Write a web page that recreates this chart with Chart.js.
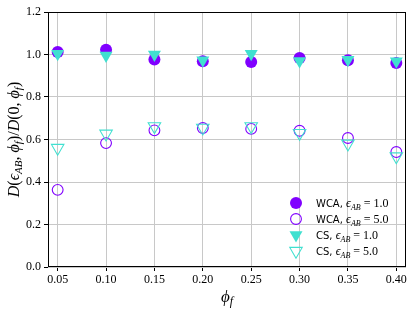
<!DOCTYPE html>
<html><head><meta charset="utf-8">
<script src="https://cdn.jsdelivr.net/npm/chart.js@4/dist/chart.umd.min.js"></script>
<style>html,body{margin:0;padding:0;background:#fff}#wrap{width:415px;height:312px}</style>
</head><body><div id="wrap"><canvas id="c" width="415" height="312"></canvas></div>
<script>
const phiF = [0.05, 0.10, 0.15, 0.20, 0.25, 0.30, 0.35, 0.40];
const wcaEps1 = [1.012, 1.022, 0.976, 0.968, 0.965, 0.984, 0.973, 0.960];
const wcaEps5 = [0.363, 0.583, 0.643, 0.654, 0.650, 0.641, 0.607, 0.541];
const csEps1 = [1.003, 0.995, 1.000, 0.973, 1.003, 0.970, 0.975, 0.968];
const csEps5 = [0.560, 0.627, 0.662, 0.655, 0.662, 0.630, 0.580, 0.520];
const xTicks = [0.05, 0.10, 0.15, 0.20, 0.25, 0.30, 0.35, 0.40];
const yTicks = [0.0, 0.2, 0.4, 0.6, 0.8, 1.0, 1.2];
const legendLabels = [["WCA", "1.0"], ["WCA", "5.0"], ["CS", "1.0"], ["CS", "5.0"]];

const PURPLE = '#8000ff', CYAN = '#40e0d0';
const SERIF = '"Liberation Serif", "DejaVu Serif", serif';
const pts = a => a.map((v, i) => ({x: phiF[i], y: v}));

const datasets = [
  {label: 'WCA, eps_AB = 1.0', data: pts(wcaEps1), order: 4, pointStyle: 'circle', pointRadius: 6, backgroundColor: PURPLE, borderColor: PURPLE, borderWidth: 0, rotation: 0},
  {label: 'WCA, eps_AB = 5.0', data: pts(wcaEps5), order: 3, pointStyle: 'circle', pointRadius: 5.4, backgroundColor: 'rgba(0,0,0,0)', borderColor: PURPLE, borderWidth: 1.1, rotation: 0},
  {label: 'CS, eps_AB = 1.0', data: pts(csEps1), order: 2, pointStyle: 'triangle', pointRadius: 7.5, backgroundColor: CYAN, borderColor: CYAN, borderWidth: 0, rotation: 180},
  {label: 'CS, eps_AB = 5.0', data: pts(csEps5), order: 1, pointStyle: 'triangle', pointRadius: 7.2, backgroundColor: 'rgba(0,0,0,0)', borderColor: CYAN, borderWidth: 1.1, rotation: 180}
];

function drawRich(ctx, x, y, parts, align) {
  let w = 0;
  parts.forEach(p => { ctx.font = p.f; w += ctx.measureText(p.t).width; });
  let cx = align === 'center' ? x - w / 2 : (align === 'right' ? x - w : x);
  ctx.textBaseline = 'alphabetic'; ctx.textAlign = 'left';
  parts.forEach(p => { ctx.font = p.f; ctx.fillText(p.t, cx, y + (p.dy || 0)); cx += ctx.measureText(p.t).width; });
}

const mathPlugin = {
  id: 'mathText',
  afterDraw(chart) {
    const ctx = chart.ctx, a = chart.chartArea;
    ctx.save();
    ctx.strokeStyle = '#000'; ctx.lineWidth = 1;
    ctx.strokeRect(Math.round(a.left) + 0.5, Math.round(a.top) + 0.5, Math.round(a.right - a.left) - 1, Math.round(a.bottom - a.top) - 1);
    ctx.fillStyle = '#000';
    const it = s => 'italic ' + s + 'px ' + SERIF, rm = s => s + 'px ' + SERIF;
    drawRich(ctx, (a.left + a.right) / 2, 302, [{t: 'ϕ', f: it(17)}, {t: 'f', f: it(12), dy: 3}], 'center');
    ctx.save();
    ctx.translate(19, (a.top + a.bottom) / 2);
    ctx.rotate(-Math.PI / 2);
    drawRich(ctx, 0, 0, [
      {t: 'D', f: it(16)}, {t: '(', f: rm(16)}, {t: 'ϵ', f: it(16)}, {t: 'AB', f: it(11), dy: 3},
      {t: ', ', f: rm(16)}, {t: 'ϕ', f: it(16)}, {t: 'f', f: it(11), dy: 3}, {t: ')/', f: rm(16)},
      {t: 'D', f: it(16)}, {t: '(0, ', f: rm(16)}, {t: 'ϕ', f: it(16)}, {t: 'f', f: it(11), dy: 3}, {t: ')', f: rm(16)}
    ], 'center');
    ctx.restore();
    const rows = [203, 219, 235, 251];
    const mx = 296, tx = 316;
    datasets.forEach((ds, i) => {
      ctx.save();
      ctx.fillStyle = ds.backgroundColor; ctx.strokeStyle = ds.borderColor; ctx.lineWidth = ds.borderWidth;
      Chart.helpers.drawPoint(ctx, {pointStyle: ds.pointStyle, radius: ds.pointRadius, rotation: ds.rotation, borderWidth: ds.borderWidth}, mx, rows[i]);
      ctx.restore();
      ctx.fillStyle = '#000';
      drawRich(ctx, tx, rows[i] + 4, [
        {t: legendLabels[i][0] + ', ', f: '10px "DejaVu Sans", sans-serif'},
        {t: 'ϵ', f: it(12)}, {t: 'AB', f: it(8), dy: 2.5},
        {t: ' = ' + legendLabels[i][1], f: rm(12)}
      ], 'left');
    });
    ctx.restore();
  }
};

new Chart(document.getElementById('c'), {
  type: 'scatter',
  data: {datasets},
  options: {
    responsive: false, animation: false, devicePixelRatio: 1,
    layout: {padding: {left: 0, right: 9, top: 12, bottom: 0}},
    plugins: {legend: {display: false}, tooltip: {enabled: false}},
    scales: {
      x: {
        type: 'linear', min: 0.04, max: 0.41,
        afterBuildTicks: s => { s.ticks = xTicks.map(v => ({value: v})); },
        afterFit: s => { s.height = 45; },
        grid: {color: '#c8c8c8', lineWidth: 1, tickColor: '#000', tickLength: 4, drawTicks: true},
        border: {display: false},
        ticks: {color: '#000', font: {family: SERIF, size: 12}, padding: 2, maxRotation: 0, callback: v => v.toFixed(2)}
      },
      y: {
        type: 'linear', min: 0, max: 1.2,
        afterBuildTicks: s => { s.ticks = yTicks.map(v => ({value: v})); },
        afterFit: s => { s.width = 48; },
        grid: {color: '#c8c8c8', lineWidth: 1, tickColor: '#000', tickLength: 4, drawTicks: true},
        border: {display: false},
        ticks: {color: '#000', font: {family: SERIF, size: 12}, padding: 3, callback: v => v.toFixed(1)}
      }
    }
  },
  plugins: [mathPlugin]
});
</script></body></html>
